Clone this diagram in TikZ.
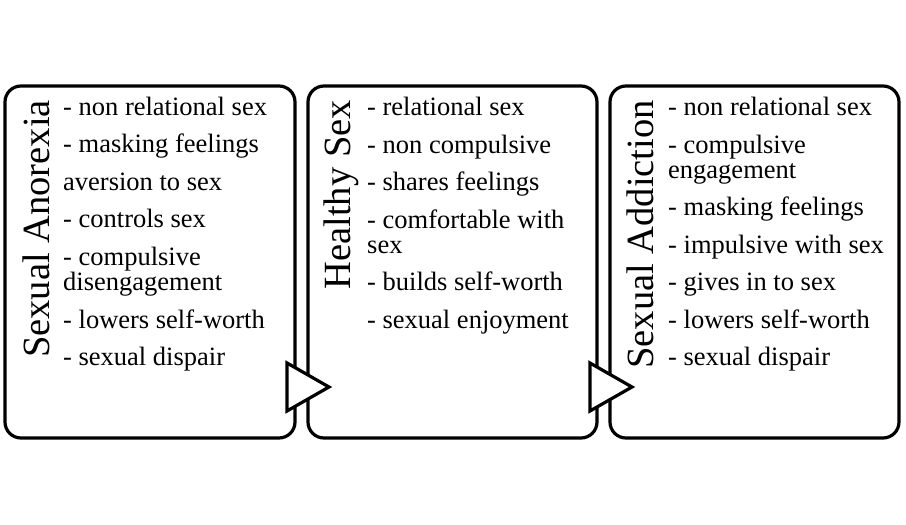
\documentclass[tikz,border=0pt]{standalone}
\usepackage{fontspec}
\setmainfont{Liberation Serif}
\begin{document}
\begin{tikzpicture}[x=1pt,y=-1pt,
  panel/.style={draw=black, line width=3.2pt, rounded corners=16pt, fill=white, inner sep=0pt},
  title/.style={rotate=90, anchor=base east, inner sep=0pt, font=\fontsize{38.5}{38}\selectfont},
  item/.style={anchor=base west, inner sep=0pt, font=\fontsize{26.5}{25}\selectfont},
  chevron/.style={draw=black, fill=white, line width=3.2pt, line join=miter}]
\useasboundingbox (0,0) rectangle (906,525);
% panels
\draw[panel] (5,86) rectangle (295,438);
\draw[panel] (308,86) rectangle (597,438);
\draw[panel] (610,86) rectangle (899,438);
% arrows between panels
\draw[chevron] (287,363) -- (329,387) -- (287,411) -- cycle;
\draw[chevron] (590,363) -- (632,387) -- (590,411) -- cycle;
% titles
\node[title] (t1) at (49,100) {Sexual Anorexia};
\node[title] (t2) at (350,100) {Healthy Sex};
\node[title] (t3) at (653,100) {Sexual Addiction};
% panel 1
\node[item] (a1) at (63,115) {- non relational sex};
\node[item] (a2) at (63,152) {- masking feelings};
\node[item] (a3) at (63,190) {aversion to sex};
\node[item] (a4) at (63,227) {- controls sex};
\node[item] (a5) at (63,265) {- compulsive};
\node[item] (a6) at (63,290) {disengagement};
\node[item] (a7) at (63,328) {- lowers self-worth};
\node[item] (a8) at (63,365) {- sexual dispair};
% panel 2
\node[item] (b1) at (367,115) {- relational sex};
\node[item] (b2) at (367,153) {- non compulsive};
\node[item] (b3) at (367,190) {- shares feelings};
\node[item] (b4) at (367,228) {- comfortable with};
\node[item] (b5) at (367,253) {sex};
\node[item] (b6) at (367,290) {- builds self-worth};
\node[item] (b7) at (367,328) {- sexual enjoyment};
% panel 3
\node[item] (c1) at (668,115) {- non relational sex};
\node[item] (c2) at (668,153) {- compulsive};
\node[item] (c3) at (668,178) {engagement};
\node[item] (c4) at (668,215) {- masking feelings};
\node[item] (c5) at (668,253) {- impulsive with sex};
\node[item] (c6) at (668,290) {- gives in to sex};
\node[item] (c7) at (668,328) {- lowers self-worth};
\node[item] (c8) at (668,365) {- sexual dispair};
\end{tikzpicture}
\end{document}
